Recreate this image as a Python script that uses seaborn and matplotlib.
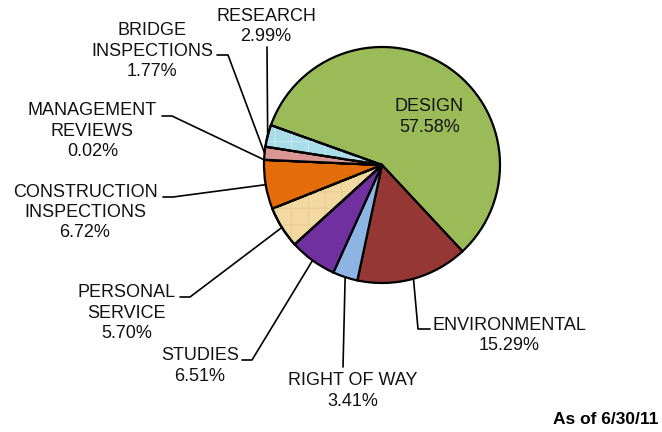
import numpy as np
import matplotlib.pyplot as plt
from matplotlib.patches import Wedge
import seaborn as sns

# Datos del gráfico (porcentajes)
categories = ['DESIGN', 'ENVIRONMENTAL', 'RIGHT OF WAY', 'STUDIES', 'PERSONAL\nSERVICE',
              'CONSTRUCTION\nINSPECTIONS', 'MANAGEMENT\nREVIEWS', 'BRIDGE\nINSPECTIONS', 'RESEARCH']
shares = [57.58, 15.29, 3.41, 6.51, 5.70, 6.72, 0.02, 1.77, 2.99]
pct_labels = ['57.58%', '15.29%', '3.41%', '6.51%', '5.70%', '6.72%', '0.02%', '1.77%', '2.99%']
colors = ['#9BBB59', '#953735', '#8DB4E2', '#7030A0', '#F2D9A2',
          '#E46C0A', '#D99694', '#D99694', '#A9DCE9']

# Posiciones de etiquetas y guías en píxeles (x, y desde arriba)
label_pos = [(429.5, 117), (509, 335.5), (352.5, 391), (200, 366), (126.5, 313),
             (85, 212.5), (92.5, 131), (152, 51), (266, 26.5)]
elbows = [None, (418, 329), (343, 367), (252, 360), (190, 297),
          (173, 197), (172, 116), (228, 55), (267, 47)]
ends = [None, (430, 329), None, (242, 360), (180, 297),
        (163, 197), (162, 116), (217, 55), None]

W, H = 662, 432
center = (382, H - 165)
radius = 118

sns.set_theme(style="white")
plt.rcParams['font.family'] = ['Liberation Sans', 'DejaVu Sans']
plt.rcParams['hatch.linewidth'] = 0.8

fig = plt.figure(figsize=(6.62, 4.32), dpi=100)
ax = fig.add_axes([0, 0, 1, 1])

wedges, _ = ax.pie(shares, colors=colors, startangle=160.3, counterclock=False,
                   center=center, radius=radius, frame=True,
                   wedgeprops=dict(edgecolor='black', linewidth=1.6))

# textura suave para PERSONAL SERVICE y RESEARCH
for idx, col in [(4, '#E9CE95'), (8, '#C4E9F1')]:
    w = wedges[idx]
    ax.add_patch(Wedge(center, radius, w.theta1, w.theta2, facecolor='none',
                       edgecolor=col, linewidth=0, hatch='+', zorder=2))
    ax.add_patch(Wedge(center, radius, w.theta1, w.theta2, facecolor='none',
                       edgecolor='black', linewidth=1.6, zorder=3))

ax.set_xlim(0, W)
ax.set_ylim(0, H)
ax.axis('off')

for i, w in enumerate(wedges):
    label = f"{categories[i]}\n{pct_labels[i]}"
    lx, ly = label_pos[i]
    ax.text(lx, H - ly, label, ha='center', va='center', fontsize=13,
            color='#111111', linespacing=1.25, zorder=5)
    if elbows[i] is None:
        continue
    ang = np.deg2rad((w.theta1 + w.theta2) / 2)
    ex = center[0] + radius * np.cos(ang)
    ey = center[1] + radius * np.sin(ang)
    xs = [ex, elbows[i][0]]
    ys = [ey, H - elbows[i][1]]
    if ends[i] is not None:
        xs.append(ends[i][0])
        ys.append(H - ends[i][1])
    ax.plot(xs, ys, color='black', linewidth=1.2, zorder=4)

ax.text(658, H - 419, 'As of 6/30/11', ha='right', va='center', fontsize=12.5,
        fontweight='bold', color='black')

fig.savefig('out.png', dpi=100)
